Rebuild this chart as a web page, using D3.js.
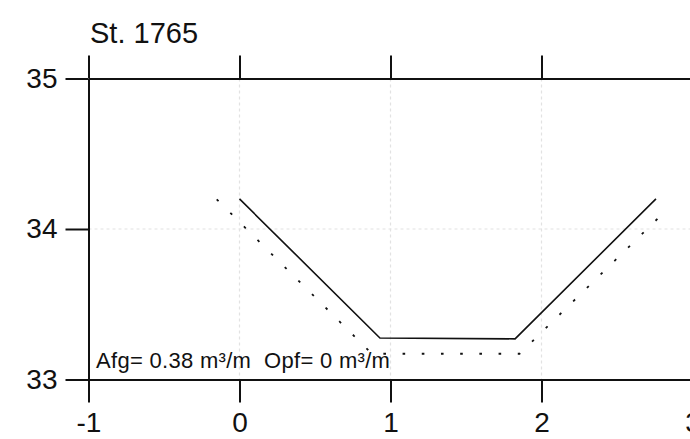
<!DOCTYPE html>
<html>
<head>
<meta charset="utf-8">
<script src="https://cdn.jsdelivr.net/npm/d3@7"></script>
<style>
  html, body { margin: 0; padding: 0; background: #fff; }
  svg { display: block; }
  text { font-family: "Liberation Sans", Arial, Helvetica, sans-serif; fill: #111; }
</style>
</head>
<body>
<svg id="chart" width="690" height="439"></svg>
<script>
// ---- data ----
const title = "St. 1765";
const annotation = "Afg= 0.38 m³/m  Opf= 0 m³/m";
const xTicks = [-1, 0, 1, 2, 3];
const yTicks = [33, 34, 35];
const xGrid = [0, 1, 2];
const yGrid = [34];
// solid profile (design)
const solidX = [0, 0.93, 1.825, 2.758];
const solidY = [34.2, 33.276, 33.27, 34.2];
// dotted profile (measured)
const dottedX = [-0.151, 0.877, 1.855, 2.84];
const dottedY = [34.197, 33.171, 33.171, 34.138];

// ---- layout ----
const svg = d3.select("#chart");
const x = d3.scaleLinear().domain([-1, 3]).range([88.5, 692.5]);
const y = d3.scaleLinear().domain([33, 35]).range([379.5, 78.5]);
const tickLen = 23;

// grid
svg.append("g").selectAll("line").data(xGrid).join("line")
  .attr("x1", d => x(d)).attr("x2", d => x(d))
  .attr("y1", y(35)).attr("y2", y(33))
  .attr("stroke", "#e2e2e2").attr("stroke-width", 1.2).attr("stroke-dasharray", "3,3");
svg.append("g").selectAll("line").data(yGrid).join("line")
  .attr("x1", x(-1)).attr("x2", x(3))
  .attr("y1", d => y(d)).attr("y2", d => y(d))
  .attr("stroke", "#e2e2e2").attr("stroke-width", 1.2).attr("stroke-dasharray", "3,3");

function styleAxis(g) {
  g.selectAll("path.domain").attr("stroke", "#111").attr("stroke-width", 2);
  g.selectAll(".tick line").attr("stroke", "#111").attr("stroke-width", 2);
  g.selectAll(".tick text")
    .style("font-family", '"Liberation Sans", Arial, Helvetica, sans-serif')
    .attr("fill", "#111");
}

// top axis (ticks only)
svg.append("g").attr("transform", `translate(0,${y(35)})`)
  .call(d3.axisTop(x).tickValues(xTicks).tickSize(tickLen).tickSizeOuter(0).tickFormat(""))
  .call(styleAxis);

// bottom axis
svg.append("g").attr("transform", `translate(0,${y(33)})`)
  .call(d3.axisBottom(x).tickValues(xTicks).tickSize(tickLen).tickSizeOuter(0)
        .tickPadding(10).tickFormat(d => String(d)))
  .call(styleAxis)
  .call(g => g.selectAll(".tick text").attr("font-size", 28));

// left axis
svg.append("g").attr("transform", `translate(${x(-1)},0)`)
  .call(d3.axisLeft(y).tickValues(yTicks).tickSize(tickLen).tickSizeOuter(0)
        .tickPadding(8).tickFormat(d => String(d)))
  .call(styleAxis)
  .call(g => g.selectAll(".tick text").attr("font-size", 28).attr("dy", "0.32em"));

// lines
const line = d3.line().x(d => x(d[0])).y(d => y(d[1]));
svg.append("path")
  .datum(solidX.map((v, i) => [v, solidY[i]]))
  .attr("d", line).attr("fill", "none")
  .attr("stroke", "#111").attr("stroke-width", 1.6);
svg.append("path")
  .datum(dottedX.map((v, i) => [v, dottedY[i]]))
  .attr("d", line).attr("fill", "none")
  .attr("stroke", "#111").attr("stroke-width", 1.8)
  .attr("stroke-dasharray", "2.6,16.6");

// title
svg.append("text").attr("x", 90).attr("y", 42.5)
  .attr("font-size", 29).text(title);

// annotation
svg.append("text").attr("x", 96).attr("y", 368)
  .attr("font-size", 22).attr("letter-spacing", 0.3)
  .attr("xml:space", "preserve").style("white-space", "pre")
  .text(annotation);
</script>
</body>
</html>
